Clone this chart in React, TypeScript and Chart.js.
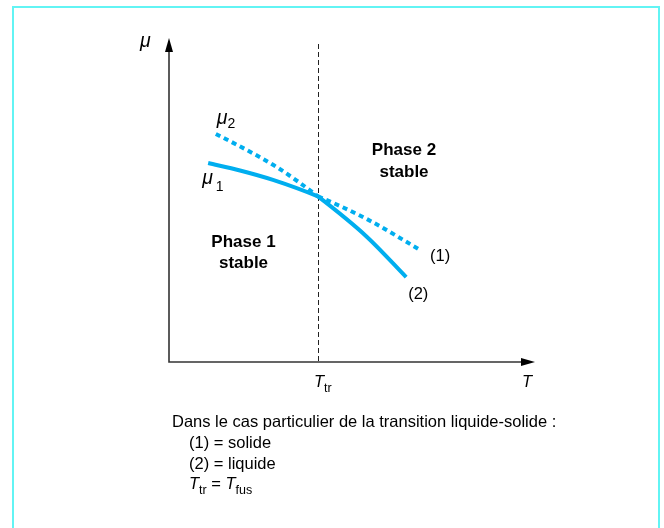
import { useEffect, useRef } from "react";
import { Chart, registerables } from "chart.js";

Chart.register(...registerables);

// Transition temperature (where the two chemical-potential curves cross)
const T_TR = 40.7;

// Curve (1): mu1(T)
const mu1T = [10.7, 19.4, 28.4, 40.7, 54.1, 68.6];
const mu1Values = [61.4, 59.1, 56.2, 51.1, 44.1, 34.6];

// Curve (2): mu2(T)
const mu2T = [12.8, 21.3, 29.8, 40.7, 54.1, 64.8];
const mu2Values = [70.4, 65.4, 59.9, 51.1, 38.6, 26.2];

const captionHead = "Dans le cas particulier de la transition liquide-solide :";
const captionItems = ["(1) = solide", "(2) = liquide"];

const CURVE_COLOR = "#00aeef";
const DOTTED = [5, 4];
const FONT = "'Liberation Sans', Arial, sans-serif";

function drawSub(
  ctx: CanvasRenderingContext2D,
  main: string,
  sub: string,
  x: number,
  y: number,
  mainFont: string,
  subFont: string,
  gap: number,
  drop: number
) {
  ctx.font = mainFont;
  ctx.fillText(main, x, y);
  const w = ctx.measureText(main).width;
  ctx.font = subFont;
  ctx.fillText(sub, x + w + gap, y + drop);
  return x + w + gap + ctx.measureText(sub).width;
}

const diagramPlugin = {
  id: "diagram",
  beforeDatasetsDraw(chart: any) {
    const { ctx, chartArea, scales } = chart;
    const { left, right, top, bottom } = chartArea;
    ctx.save();

    // frame
    ctx.strokeStyle = "#62f4f4";
    ctx.lineWidth = 2;
    ctx.strokeRect(13, 7, 646, 540);

    // transition temperature guide
    const xt = Math.round(scales.x.getPixelForValue(T_TR)) + 0.5;
    ctx.strokeStyle = "#222";
    ctx.lineWidth = 1;
    ctx.setLineDash([5, 3]);
    ctx.beginPath();
    ctx.moveTo(xt, top + 6);
    ctx.lineTo(xt, bottom);
    ctx.stroke();
    ctx.setLineDash([]);

    // axes
    ctx.strokeStyle = "#333";
    ctx.lineWidth = 1.6;
    ctx.beginPath();
    ctx.moveTo(left, top + 10);
    ctx.lineTo(left, bottom);
    ctx.lineTo(right - 10, bottom);
    ctx.stroke();

    ctx.fillStyle = "#000";
    ctx.beginPath();
    ctx.moveTo(left, top);
    ctx.lineTo(left - 4, top + 14);
    ctx.lineTo(left + 4, top + 14);
    ctx.closePath();
    ctx.fill();
    ctx.beginPath();
    ctx.moveTo(right, bottom);
    ctx.lineTo(right - 14, bottom - 4);
    ctx.lineTo(right - 14, bottom + 4);
    ctx.closePath();
    ctx.fill();
    ctx.restore();
  },
  afterDatasetsDraw(chart: any) {
    const { ctx, chartArea, scales } = chart;
    const { left, right, bottom } = chartArea;
    const xs = scales.x;
    const ys = scales.y;
    ctx.save();
    ctx.fillStyle = "#000";
    ctx.textBaseline = "alphabetic";
    const italic = `italic 19.5px ${FONT}`;
    const italicT = `italic 16.5px ${FONT}`;
    const regular = `16.5px ${FONT}`;
    const sub = `12.5px ${FONT}`;
    const muSub = `14px ${FONT}`;
    const bold = `bold 17px ${FONT}`;

    // axis titles
    ctx.textAlign = "left";
    ctx.font = italic;
    ctx.fillText("\u03bc", left - 29, 47);
    ctx.font = italicT;
    ctx.fillText("T", right - 13, bottom + 25);
    const xt = xs.getPixelForValue(T_TR);
    drawSub(ctx, "T", "tr", xt - 4, bottom + 25, italicT, sub, 0, 5);

    // curve names
    const m2x = xs.getPixelForValue(mu2T[0]);
    const m2y = ys.getPixelForValue(mu2Values[0]);
    drawSub(ctx, "\u03bc", "2", m2x + 1, m2y - 10, italic, muSub, 0, 4);
    const m1x = xs.getPixelForValue(mu1T[0]);
    const m1y = ys.getPixelForValue(mu1Values[0]);
    drawSub(ctx, "\u03bc", "1", m1x - 6, m1y + 21, italic, muSub, 3, 7);

    ctx.font = regular;
    const e1x = xs.getPixelForValue(mu1T[mu1T.length - 1]);
    const e1y = ys.getPixelForValue(mu1Values[mu1Values.length - 1]);
    ctx.fillText("(1)", e1x + 10, e1y + 11);
    const e2x = xs.getPixelForValue(mu2T[mu2T.length - 1]);
    const e2y = ys.getPixelForValue(mu2Values[mu2Values.length - 1]);
    ctx.fillText("(2)", e2x + 2, e2y + 22);

    // stability regions
    ctx.textAlign = "center";
    ctx.font = bold;
    ctx.fillText("Phase 2", 404, 155);
    ctx.fillText("stable", 404, 177);
    ctx.fillText("Phase 1", 243.5, 247);
    ctx.fillText("stable", 243.5, 268);

    // caption
    ctx.textAlign = "left";
    ctx.font = regular;
    ctx.fillText(captionHead, 172, 427);
    captionItems.forEach((t, i) => ctx.fillText(t, 189, 448 + i * 20.5));
    let x = drawSub(ctx, "T", "tr", 189, 489, italicT, sub, 0, 5);
    ctx.font = regular;
    ctx.fillText(" = ", x, 489);
    x += ctx.measureText(" = ").width;
    drawSub(ctx, "T", "fus", x, 489, italicT, sub, 0, 5);
    ctx.restore();
  },
};

export default function App() {
  const ref = useRef<HTMLCanvasElement | null>(null);

  useEffect(() => {
    if (!ref.current) return;
    const dotted = (after: boolean) => (c: any) =>
      (c.p0.parsed.x >= T_TR) === after ? DOTTED : undefined;
    const chart = new Chart(ref.current, {
      type: "line",
      data: {
        datasets: [
          {
            label: "\u03bc1",
            data: mu1T.map((t, i) => ({ x: t, y: mu1Values[i] })),
            borderColor: CURVE_COLOR,
            borderWidth: 4,
            borderDash: [],
            borderCapStyle: "butt",
            cubicInterpolationMode: "monotone",
            pointRadius: 0,
            segment: { borderDash: dotted(true) },
          },
          {
            label: "\u03bc2",
            data: mu2T.map((t, i) => ({ x: t, y: mu2Values[i] })),
            borderColor: CURVE_COLOR,
            borderWidth: 4,
            borderDash: [],
            borderCapStyle: "butt",
            cubicInterpolationMode: "monotone",
            pointRadius: 0,
            segment: { borderDash: dotted(false) },
          },
        ],
      },
      options: {
        responsive: false,
        animation: false,
        layout: { padding: { left: 169, top: 38, right: 129, bottom: 166 } },
        scales: {
          x: { type: "linear", min: 0, max: 100, display: false },
          y: { type: "linear", min: 0, max: 100, display: false },
        },
        plugins: { legend: { display: false }, tooltip: { enabled: false } },
      },
      plugins: [diagramPlugin],
    } as any);
    return () => chart.destroy();
  }, []);

  return (
    <div style={{ position: "absolute", left: 0, top: 0, width: 664, height: 528, background: "#fff" }}>
      <canvas ref={ref} width={664} height={528} style={{ display: "block" }} />
    </div>
  );
}
